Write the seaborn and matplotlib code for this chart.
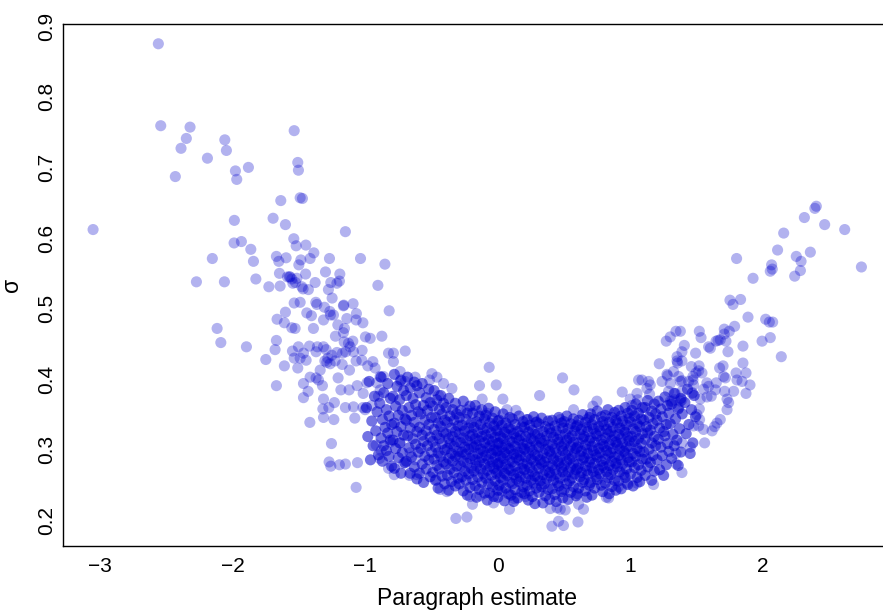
import matplotlib
matplotlib.use("Agg")
import matplotlib.pyplot as plt
import seaborn as sns
import pandas as pd

# ---- data (x = paragraph estimate, y = sigma) ----
left_arm = [
    (-2.559,0.875),(-2.541,0.759),(-2.320,0.757),(-2.348,0.741),(-2.388,0.727),(-2.431,0.687),(-2.189,0.713),
    (-2.058,0.739),(-2.046,0.724),(-1.978,0.695),(-1.968,0.683),(-1.880,0.700),(-1.535,0.752),(-1.508,0.707),
    (-1.503,0.696),(-1.490,0.657),(-1.636,0.653),(-1.473,0.656),(-3.051,0.612),(-1.986,0.625),(-1.694,0.628),
    (-1.601,0.619),(-1.149,0.609),(-1.538,0.599),(-1.520,0.589),(-1.447,0.590),(-1.988,0.593),(-1.933,0.595),
    (-1.862,0.584),(-1.387,0.579),(-1.415,0.571),(-1.485,0.569),(-1.500,0.562),(-1.269,0.571),(-1.035,0.571),
    (-0.851,0.563),(-2.152,0.571),(-1.842,0.567),(-1.669,0.574),(-1.651,0.567),(-1.596,0.572),(-1.646,0.550),
    (-1.824,0.542),(-2.272,0.538),(-2.061,0.538),(-1.726,0.531),(-1.641,0.532),(-1.586,0.545),(-1.566,0.545),
    (-1.545,0.536),(-1.515,0.543),(-1.477,0.531),(-1.571,0.545),(-1.553,0.542),(-1.525,0.537),(-1.449,0.549),
    (-1.299,0.552),(-1.191,0.549),(-1.194,0.539),(-1.213,0.536),(-1.259,0.537),(-1.377,0.537),(-1.468,0.528),
    (-1.428,0.527),(-1.277,0.527),(-1.249,0.515),(-0.904,0.533),(-0.819,0.497),(-1.161,0.505),(-1.091,0.507),
    (-1.535,0.508),(-1.490,0.509),(-1.372,0.509),(-1.364,0.506),(-1.601,0.495),(-1.440,0.494),(-1.405,0.490),
    (-1.266,0.496),(-1.307,0.502),(-1.066,0.493),
    (-2.116,0.472),(-2.088,0.452),(-1.895,0.446),(-1.749,0.428),(-1.669,0.391),(-1.609,0.419),(-1.679,0.442),
    (-1.669,0.455),(-1.664,0.485),(-1.609,0.480),(-1.553,0.473),(-1.528,0.472),(-1.548,0.440),(-1.535,0.430),
    (-1.503,0.446),(-1.508,0.416),(-1.490,0.430),(-1.445,0.427),(-1.420,0.447),(-1.465,0.437),(-1.360,0.446),
    (-1.314,0.446),(-1.294,0.442),(-1.370,0.439),(-1.262,0.491),(-1.239,0.491),(-1.314,0.484),(-1.164,0.504),
    (-1.068,0.484),(-1.017,0.480),(-1.138,0.486),(-1.206,0.477),(-1.156,0.472),(-1.164,0.466),(-1.224,0.461),
    (-1.390,0.472),(-0.874,0.461),(-0.962,0.458),(-0.998,0.460),(-1.158,0.453),(-1.126,0.451),(-1.093,0.454),
    (-1.113,0.446),(-1.146,0.439),(-1.171,0.437),(-1.213,0.438),(-1.251,0.434),(-1.281,0.430),(-1.304,0.426),
    (-1.289,0.424),(-1.264,0.422),(-1.339,0.413),(-1.370,0.402),(-1.352,0.399),(-1.322,0.391),(-1.415,0.403),
    (-1.465,0.394),(-1.430,0.383),(-1.465,0.374),(-1.204,0.402),(-1.183,0.385),(-1.121,0.385),(-1.060,0.391),
    (-0.987,0.395),(-1.015,0.380),(-1.118,0.413),(-1.173,0.421),(-1.226,0.426),(-1.068,0.426),(-1.025,0.427),
    (-1.088,0.439),(-1.023,0.441),(-0.942,0.425),(-0.925,0.416),(-0.980,0.419),(-1.314,0.372),(-1.319,0.358),
    (-1.274,0.360),(-1.232,0.367),(-1.314,0.346),(-1.236,0.343),(-1.417,0.339),(-1.149,0.360),(-1.088,0.361),
    (-1.078,0.345),(-1.017,0.360),(-1.000,0.357),(-0.949,0.363),(-0.900,0.376),(-0.887,0.385),(-0.912,0.395),
    (-0.862,0.404),(-0.887,0.404),(-1.254,0.309),(-1.272,0.283),(-1.259,0.277),(-1.194,0.279),(-1.149,0.280),
    (-1.058,0.282),(-1.068,0.247),
    (-0.917,0.307),(-0.879,0.299),(-0.891,0.288),(-0.824,0.274),(-0.781,0.265),(-0.711,0.281),(-0.666,0.264),
    (-0.610,0.265),(-0.811,0.311),(-0.736,0.310),(-0.661,0.296),(-0.623,0.286),
    (-0.698,0.440),(-0.787,0.437),(-0.824,0.437),(-0.787,0.425),(-0.736,0.411),(-0.623,0.403),(-0.698,0.397),
    (-0.736,0.397),
]

upper_mid = [
    (-0.497,0.408),(-0.514,0.399),(-0.459,0.403),(-0.409,0.394),(-0.346,0.387),(-0.447,0.377),(-0.065,0.417),
    (-0.138,0.391),(-0.012,0.392),(-0.118,0.372),(0.038,0.372),(0.315,0.377),(0.488,0.402),(0.574,0.385),
    (0.938,0.382),(0.998,0.372),(1.049,0.380),(1.061,0.399),(0.747,0.369),(0.717,0.362),(-0.233,0.357),
    (-0.158,0.355),(-0.082,0.352),(0.069,0.357),(0.137,0.356),(0.231,0.343),(0.294,0.340),(0.471,0.343),
    (0.571,0.357),(0.672,0.343),
]

lower_mid = [
    (-0.316,0.203),(-0.233,0.205),(0.088,0.216),(-0.208,0.234),(-0.191,0.223),(-0.133,0.235),(-0.032,0.225),
    (0.124,0.231),(0.207,0.234),(0.408,0.192),(0.458,0.199),(0.495,0.193),(0.604,0.198),(0.835,0.232),
    (0.818,0.233),(0.646,0.216),(0.508,0.215),(0.446,0.218),(0.395,0.217),(1.174,0.251),(1.388,0.268),
    (1.345,0.280),(1.343,0.295),(1.451,0.304),(1.388,0.310),(-0.384,0.241),(-0.434,0.244),(-0.465,0.258),
    (0.471,0.216),(0.609,0.223),(0.910,0.248),(0.974,0.253),(1.049,0.253),
]

right_arm = [
    (2.401,0.645),(2.390,0.642),(2.311,0.629),(2.464,0.619),(2.615,0.612),(2.155,0.607),(2.109,0.583),
    (2.250,0.574),(2.286,0.567),(2.356,0.580),(2.064,0.562),(2.069,0.556),(2.054,0.553),(2.281,0.554),
    (2.238,0.546),(1.800,0.571),(2.741,0.559),(1.924,0.543),(1.750,0.512),(1.773,0.506),(1.830,0.513),
    (1.886,0.488),(2.019,0.485),(2.047,0.481),(2.072,0.481),(1.992,0.454),(2.054,0.459),(2.137,0.432),
    (1.848,0.447),(1.735,0.439),(1.785,0.475),(1.745,0.468),(1.707,0.471),(1.677,0.456),(1.720,0.454),
    (1.707,0.464),(1.589,0.446),(1.602,0.444),(1.645,0.454),(1.660,0.455),(1.519,0.468),(1.532,0.459),
    (1.491,0.437),(1.376,0.468),(1.343,0.468),(1.300,0.460),(1.270,0.454),(1.406,0.448),(1.388,0.439),
    (1.351,0.432),(1.351,0.426),(1.355,0.423),(1.217,0.422),(1.848,0.423),(1.796,0.409),(1.871,0.409),
    (1.803,0.399),(1.841,0.397),(1.901,0.392),(1.871,0.380),(1.698,0.419),(1.672,0.416),(1.702,0.404),
    (1.715,0.402),(1.647,0.395),(1.640,0.385),(1.589,0.390),(1.609,0.376),(1.577,0.375),(1.778,0.383),
    (1.710,0.383),(1.728,0.372),(1.740,0.367),(1.728,0.357),(1.677,0.343),(1.652,0.338),(1.634,0.333),
    (1.615,0.327),(1.559,0.310),(1.517,0.419),(1.514,0.412),(1.539,0.409),(1.471,0.404),(1.438,0.397),
    (1.476,0.392),(1.551,0.386),(1.576,0.395),(1.464,0.380),(1.526,0.372),(1.519,0.358),(1.501,0.350),
    (1.521,0.343),(1.514,0.334),(1.476,0.334),(1.551,0.329),(1.325,0.411),(1.363,0.404),(1.376,0.397),
    (1.300,0.394),(1.275,0.407),(1.238,0.397),(1.287,0.383),(1.338,0.380),(1.388,0.383),(1.333,0.371),
    (1.376,0.369),(1.313,0.369),(1.363,0.360),(1.087,0.399),(1.137,0.397),(1.124,0.387),(1.144,0.379),
    (1.054,0.371),(1.011,0.363),(1.149,0.392),(1.280,0.405),(1.388,0.426),(1.459,0.418),(1.494,0.409),
    (1.388,0.398),(1.471,0.399),(1.468,0.381),(1.300,0.369),(1.388,0.371),
]

core = [
    (-0.97,0.397),(-0.93,0.376),(-0.99,0.360),(-0.91,0.354),(-0.95,0.341),(-0.92,0.327),(-0.98,0.319),(-0.94,0.306),(-0.90,0.293),(-0.96,0.286),
    (-0.88,0.403),(-0.83,0.394),(-0.86,0.381),(-0.81,0.373),(-0.89,0.366),(-0.84,0.357),(-0.82,0.348),(-0.87,0.343),(-0.80,0.336),(-0.85,0.332),
    (-0.83,0.324),(-0.88,0.317),(-0.81,0.314),(-0.86,0.306),(-0.84,0.299),(-0.82,0.291),(-0.87,0.284),(-0.80,0.277),
    (-0.78,0.407),(-0.73,0.399),(-0.76,0.390),(-0.71,0.384),(-0.79,0.376),(-0.74,0.371),(-0.77,0.362),(-0.72,0.356),(-0.75,0.349),(-0.70,0.344),
    (-0.78,0.338),(-0.73,0.333),(-0.76,0.326),(-0.71,0.321),(-0.79,0.314),(-0.74,0.310),(-0.77,0.302),(-0.72,0.296),(-0.75,0.289),(-0.70,0.282),
    (-0.78,0.274),(-0.73,0.267),
    (-0.68,0.403),(-0.63,0.396),(-0.66,0.388),(-0.61,0.391),(-0.69,0.377),(-0.64,0.373),(-0.62,0.364),(-0.67,0.360),(-0.60,0.354),(-0.65,0.349),
    (-0.69,0.342),(-0.63,0.339),(-0.66,0.331),(-0.61,0.326),(-0.68,0.320),(-0.64,0.316),(-0.62,0.308),(-0.67,0.303),(-0.60,0.297),(-0.65,0.290),
    (-0.69,0.284),(-0.63,0.276),(-0.66,0.267),(-0.61,0.259),
    (-0.57,0.394),(-0.52,0.386),(-0.59,0.381),(-0.54,0.374),(-0.51,0.367),(-0.56,0.363),(-0.53,0.356),(-0.58,0.351),(-0.50,0.346),(-0.55,0.342),
    (-0.52,0.336),(-0.59,0.332),(-0.54,0.327),(-0.57,0.321),(-0.51,0.318),(-0.56,0.312),(-0.53,0.306),(-0.58,0.302),(-0.50,0.297),(-0.55,0.291),
    (-0.52,0.286),(-0.57,0.280),(-0.54,0.273),(-0.59,0.267),(-0.51,0.262),(-0.56,0.254),
    (-0.48,0.384),(-0.43,0.377),(-0.46,0.371),(-0.41,0.366),(-0.49,0.362),(-0.44,0.357),(-0.42,0.351),(-0.47,0.346),(-0.40,0.342),(-0.45,0.338),
    (-0.43,0.333),(-0.48,0.329),(-0.41,0.325),(-0.46,0.321),(-0.44,0.316),(-0.49,0.312),(-0.42,0.309),(-0.47,0.304),(-0.40,0.300),(-0.45,0.296),
    (-0.43,0.291),(-0.48,0.287),(-0.41,0.283),(-0.46,0.278),(-0.44,0.273),(-0.49,0.268),(-0.42,0.263),(-0.47,0.257),(-0.40,0.252),(-0.45,0.246),
    (-0.37,0.373),(-0.32,0.366),(-0.39,0.360),(-0.34,0.357),(-0.31,0.351),(-0.36,0.348),(-0.33,0.342),(-0.38,0.339),(-0.30,0.334),(-0.35,0.331),
    (-0.32,0.326),(-0.39,0.323),(-0.34,0.319),(-0.37,0.316),(-0.31,0.312),(-0.36,0.309),(-0.33,0.305),(-0.38,0.302),(-0.30,0.298),(-0.35,0.295),
    (-0.32,0.291),(-0.37,0.288),(-0.34,0.284),(-0.39,0.280),(-0.31,0.277),(-0.36,0.273),(-0.33,0.268),(-0.38,0.264),(-0.30,0.260),(-0.35,0.255),
    (-0.32,0.249),(-0.37,0.243),
    (-0.26,0.369),(-0.21,0.362),(-0.28,0.356),(-0.23,0.352),(-0.29,0.346),(-0.24,0.343),(-0.20,0.338),(-0.27,0.335),(-0.22,0.331),(-0.25,0.327),
    (-0.29,0.323),(-0.21,0.320),(-0.26,0.317),(-0.23,0.313),(-0.28,0.310),(-0.20,0.307),(-0.25,0.304),(-0.22,0.301),(-0.27,0.297),(-0.24,0.294),
    (-0.29,0.291),(-0.21,0.288),(-0.26,0.284),(-0.23,0.281),(-0.28,0.277),(-0.20,0.274),(-0.25,0.270),(-0.22,0.266),(-0.27,0.262),(-0.24,0.257),
    (-0.29,0.252),(-0.21,0.247),(-0.26,0.242),(-0.23,0.236),
    (-0.17,0.363),(-0.12,0.357),(-0.19,0.352),(-0.14,0.348),(-0.10,0.344),(-0.16,0.340),(-0.13,0.336),(-0.18,0.332),(-0.11,0.329),(-0.15,0.325),
    (-0.19,0.322),(-0.12,0.319),(-0.17,0.316),(-0.14,0.313),(-0.10,0.310),(-0.16,0.307),(-0.18,0.304),(-0.13,0.301),(-0.11,0.298),(-0.15,0.295),
    (-0.19,0.292),(-0.12,0.289),(-0.17,0.286),(-0.14,0.283),(-0.10,0.280),(-0.16,0.277),(-0.13,0.273),(-0.18,0.270),(-0.11,0.266),(-0.15,0.262),
    (-0.19,0.258),(-0.12,0.254),(-0.17,0.249),(-0.14,0.244),(-0.10,0.239),(-0.16,0.233),
    (-0.07,0.359),(-0.02,0.354),(-0.09,0.349),(-0.04,0.345),(0.00,0.341),(-0.06,0.338),(-0.03,0.334),(-0.08,0.331),(-0.01,0.327),(-0.05,0.324),
    (-0.09,0.321),(-0.02,0.318),(-0.07,0.315),(-0.04,0.312),(0.00,0.309),(-0.06,0.306),(-0.08,0.303),(-0.03,0.300),(-0.01,0.298),(-0.05,0.295),
    (-0.09,0.292),(-0.02,0.289),(-0.07,0.286),(-0.04,0.283),(0.00,0.280),(-0.06,0.277),(-0.03,0.274),(-0.08,0.271),(-0.01,0.267),(-0.05,0.264),
    (-0.09,0.260),(-0.02,0.256),(-0.07,0.252),(-0.04,0.248),(0.00,0.243),(-0.06,0.239),(-0.03,0.234),(-0.08,0.229),
    (0.04,0.351),(0.09,0.346),(0.01,0.342),(0.06,0.338),(0.03,0.335),(0.08,0.331),(0.00,0.328),(0.05,0.325),(0.07,0.322),(0.02,0.319),
    (0.04,0.316),(0.09,0.313),(0.01,0.310),(0.06,0.307),(0.03,0.304),(0.08,0.302),(0.00,0.299),(0.05,0.296),(0.07,0.293),(0.02,0.291),
    (0.04,0.288),(0.09,0.285),(0.01,0.282),(0.06,0.279),(0.03,0.276),(0.08,0.273),(0.00,0.270),(0.05,0.267),(0.07,0.264),(0.02,0.261),
    (0.04,0.257),(0.09,0.254),(0.01,0.250),(0.06,0.246),(0.03,0.242),(0.08,0.238),(0.00,0.233),(0.05,0.228),
    (0.16,0.348),(0.11,0.344),(0.19,0.340),(0.13,0.336),(0.18,0.333),(0.10,0.329),(0.15,0.326),(0.12,0.323),(0.17,0.320),(0.14,0.317),
    (0.16,0.314),(0.11,0.311),(0.19,0.308),(0.13,0.305),(0.18,0.303),(0.10,0.300),(0.15,0.297),(0.12,0.294),(0.17,0.292),(0.14,0.289),
    (0.16,0.286),(0.11,0.283),(0.19,0.280),(0.13,0.277),(0.18,0.274),(0.10,0.271),(0.15,0.268),(0.12,0.265),(0.17,0.262),(0.14,0.259),
    (0.16,0.255),(0.11,0.252),(0.19,0.248),(0.13,0.244),(0.18,0.240),(0.10,0.236),(0.15,0.232),(0.12,0.227),
    (0.27,0.347),(0.22,0.343),(0.29,0.339),(0.24,0.335),(0.20,0.332),(0.26,0.328),(0.23,0.325),(0.28,0.322),(0.21,0.319),(0.25,0.316),
    (0.27,0.313),(0.22,0.310),(0.29,0.307),(0.24,0.304),(0.20,0.301),(0.26,0.299),(0.23,0.296),(0.28,0.293),(0.21,0.290),(0.25,0.287),
    (0.27,0.284),(0.22,0.281),(0.29,0.278),(0.24,0.275),(0.20,0.272),(0.26,0.269),(0.23,0.266),(0.28,0.263),(0.21,0.260),(0.25,0.257),
    (0.27,0.253),(0.22,0.250),(0.29,0.246),(0.24,0.242),(0.20,0.238),(0.26,0.234),(0.23,0.229),(0.28,0.224),
    (0.33,0.345),(0.38,0.341),(0.31,0.337),(0.36,0.333),(0.39,0.330),(0.34,0.326),(0.30,0.323),(0.37,0.320),(0.32,0.316),(0.35,0.313),
    (0.33,0.310),(0.38,0.307),(0.31,0.304),(0.36,0.301),(0.39,0.298),(0.34,0.295),(0.30,0.292),(0.37,0.289),(0.32,0.286),(0.35,0.283),
    (0.33,0.280),(0.38,0.277),(0.31,0.274),(0.36,0.271),(0.39,0.268),(0.34,0.265),(0.30,0.262),(0.37,0.259),(0.32,0.256),(0.35,0.252),
    (0.33,0.248),(0.38,0.244),(0.31,0.240),(0.36,0.235),(0.39,0.230),(0.34,0.225),
    (0.46,0.346),(0.41,0.342),(0.48,0.338),(0.43,0.334),(0.49,0.331),(0.44,0.327),(0.40,0.324),(0.47,0.321),(0.42,0.318),(0.45,0.315),
    (0.46,0.311),(0.41,0.308),(0.48,0.305),(0.43,0.302),(0.49,0.299),(0.44,0.296),(0.40,0.293),(0.47,0.290),(0.42,0.287),(0.45,0.284),
    (0.46,0.281),(0.41,0.278),(0.48,0.275),(0.43,0.272),(0.49,0.269),(0.44,0.266),(0.40,0.263),(0.47,0.260),(0.42,0.257),(0.45,0.253),
    (0.46,0.249),(0.41,0.245),(0.48,0.241),(0.43,0.237),(0.49,0.232),(0.44,0.227),
    (0.52,0.348),(0.57,0.344),(0.50,0.340),(0.55,0.337),(0.59,0.333),(0.53,0.330),(0.58,0.327),(0.51,0.323),(0.56,0.320),(0.54,0.317),
    (0.52,0.314),(0.57,0.311),(0.50,0.308),(0.55,0.305),(0.59,0.302),(0.53,0.299),(0.58,0.296),(0.51,0.293),(0.56,0.290),(0.54,0.287),
    (0.52,0.284),(0.57,0.281),(0.50,0.278),(0.55,0.275),(0.59,0.272),(0.53,0.269),(0.58,0.266),(0.51,0.263),(0.56,0.260),(0.54,0.256),
    (0.52,0.252),(0.57,0.248),(0.50,0.244),(0.55,0.240),(0.59,0.235),(0.53,0.230),
    (0.64,0.350),(0.69,0.346),(0.61,0.342),(0.66,0.339),(0.60,0.335),(0.67,0.332),(0.63,0.329),(0.68,0.326),(0.62,0.322),(0.65,0.319),
    (0.64,0.316),(0.69,0.313),(0.61,0.310),(0.66,0.307),(0.60,0.304),(0.67,0.301),(0.63,0.298),(0.68,0.295),(0.62,0.292),(0.65,0.289),
    (0.64,0.286),(0.69,0.283),(0.61,0.280),(0.66,0.277),(0.60,0.274),(0.67,0.271),(0.63,0.268),(0.68,0.265),(0.62,0.262),(0.65,0.258),
    (0.64,0.254),(0.69,0.250),(0.61,0.246),(0.66,0.242),(0.60,0.238),(0.67,0.233),
    (0.75,0.355),(0.70,0.351),(0.78,0.347),(0.73,0.343),(0.79,0.340),(0.71,0.336),(0.76,0.333),(0.72,0.330),(0.77,0.327),(0.74,0.323),
    (0.75,0.320),(0.70,0.317),(0.78,0.314),(0.73,0.311),(0.79,0.308),(0.71,0.305),(0.76,0.302),(0.72,0.299),(0.77,0.296),(0.74,0.293),
    (0.75,0.290),(0.70,0.287),(0.78,0.284),(0.73,0.281),(0.79,0.278),(0.71,0.275),(0.76,0.272),(0.72,0.269),(0.77,0.266),(0.74,0.262),
    (0.75,0.258),(0.70,0.254),(0.78,0.250),(0.73,0.246),(0.79,0.241),(0.71,0.236),
    (0.83,0.357),(0.88,0.353),(0.81,0.349),(0.86,0.346),(0.89,0.342),(0.84,0.339),(0.80,0.335),(0.87,0.332),(0.82,0.329),(0.85,0.326),
    (0.83,0.323),(0.88,0.320),(0.81,0.317),(0.86,0.314),(0.89,0.311),(0.84,0.308),(0.80,0.305),(0.87,0.302),(0.82,0.299),(0.85,0.296),
    (0.83,0.293),(0.88,0.290),(0.81,0.287),(0.86,0.284),(0.89,0.281),(0.84,0.278),(0.80,0.275),(0.87,0.272),(0.82,0.269),(0.85,0.265),
    (0.83,0.261),(0.88,0.257),(0.81,0.253),(0.86,0.248),(0.89,0.243),(0.84,0.238),
    (0.96,0.360),(0.91,0.356),(0.98,0.352),(0.93,0.348),(0.99,0.345),(0.94,0.341),(0.90,0.338),(0.97,0.335),(0.92,0.331),(0.95,0.328),
    (0.96,0.325),(0.91,0.322),(0.98,0.319),(0.93,0.316),(0.99,0.313),(0.94,0.310),(0.90,0.307),(0.97,0.304),(0.92,0.301),(0.95,0.298),
    (0.96,0.295),(0.91,0.292),(0.98,0.289),(0.93,0.286),(0.99,0.283),(0.94,0.280),(0.90,0.276),(0.97,0.273),(0.92,0.269),(0.95,0.265),
    (0.96,0.261),(0.91,0.256),(0.98,0.251),(0.93,0.245),
    (1.04,0.365),(1.09,0.360),(1.01,0.356),(1.06,0.352),(1.03,0.348),(1.08,0.344),(1.00,0.340),(1.05,0.337),(1.07,0.333),(1.02,0.330),
    (1.04,0.326),(1.09,0.323),(1.01,0.319),(1.06,0.316),(1.03,0.312),(1.08,0.309),(1.00,0.305),(1.05,0.302),(1.07,0.298),(1.02,0.295),
    (1.04,0.291),(1.09,0.287),(1.01,0.283),(1.06,0.279),(1.03,0.275),(1.08,0.271),(1.00,0.266),(1.05,0.261),(1.07,0.255),(1.02,0.249),
    (1.13,0.370),(1.18,0.365),(1.11,0.360),(1.16,0.355),(1.19,0.351),(1.14,0.346),(1.10,0.342),(1.17,0.337),(1.12,0.333),(1.15,0.328),
    (1.13,0.324),(1.18,0.319),(1.11,0.315),(1.16,0.310),(1.19,0.306),(1.14,0.301),(1.10,0.297),(1.17,0.292),(1.12,0.287),(1.15,0.282),
    (1.13,0.276),(1.18,0.270),(1.11,0.264),(1.16,0.257),
    (1.26,0.375),(1.21,0.369),(1.28,0.363),(1.23,0.358),(1.29,0.352),(1.24,0.347),(1.20,0.342),(1.27,0.336),(1.22,0.331),(1.25,0.326),
    (1.26,0.320),(1.21,0.315),(1.28,0.309),(1.23,0.304),(1.29,0.298),(1.24,0.292),(1.20,0.286),(1.27,0.279),(1.22,0.272),(1.25,0.264),
    (1.33,0.380),(1.38,0.373),(1.31,0.365),(1.36,0.358),(1.39,0.351),(1.34,0.344),(1.30,0.337),(1.37,0.330),(1.32,0.322),(1.35,0.314),
    (1.33,0.306),(1.38,0.297),(1.31,0.288),(1.36,0.278),
    (1.43,0.386),(1.48,0.377),(1.41,0.367),(1.46,0.357),(1.49,0.347),(1.44,0.336),(1.42,0.323),(1.47,0.310),(1.45,0.295),
]

x_ticks = [-3, -2, -1, 0, 1, 2]
x_tick_labels = ["\u22123", "\u22122", "\u22121", "0", "1", "2"]
y_ticks = [0.2, 0.3, 0.4, 0.5, 0.6, 0.7, 0.8, 0.9]
y_tick_labels = ["0.2", "0.3", "0.4", "0.5", "0.6", "0.7", "0.8", "0.9"]

sparse_df = pd.DataFrame(left_arm + upper_mid + lower_mid + right_arm, columns=["estimate", "sigma"])
core_df = pd.DataFrame(core, columns=["estimate", "sigma"])

sns.set_theme(style="white")
plt.rcParams["font.family"] = ["Liberation Sans", "DejaVu Sans"]
plt.rcParams["text.color"] = "black"
plt.rcParams["axes.labelcolor"] = "black"
plt.rcParams["xtick.color"] = "black"
plt.rcParams["ytick.color"] = "black"

W, H = 883, 612
fig = plt.figure(figsize=(W / 100, H / 100), dpi=100)
ax = fig.add_axes([62.7 / W, (H - 546) / H, (891.8 - 62.7) / W, (546 - 24) / H])

POINT = "#0000CD"
sns.scatterplot(data=core_df, x="estimate", y="sigma", ax=ax, s=64, color=POINT,
                alpha=0.55, linewidth=0, edgecolor="none")
sns.scatterplot(data=sparse_df, x="estimate", y="sigma", ax=ax, s=64, color=POINT,
                alpha=0.3, linewidth=0, edgecolor="none")

ax.set_xlim(-3.28, 2.97)
ax.set_ylim(0.164, 0.903)
ax.set_xticks(x_ticks)
ax.set_xticklabels(x_tick_labels, fontsize=15)
ax.set_yticks(y_ticks)
ax.set_yticklabels(y_tick_labels, fontsize=15, rotation=90, va="center")
ax.tick_params(axis="both", length=0, colors="black")
ax.tick_params(axis="x", pad=8)
ax.tick_params(axis="y", pad=5)

for side in ["left", "top", "bottom"]:
    ax.spines[side].set_visible(True)
    ax.spines[side].set_color("black")
    ax.spines[side].set_linewidth(1.0)
ax.spines["right"].set_visible(False)

ax.set_xlabel("Paragraph estimate", fontsize=16.5, labelpad=8, color="black")
ax.set_ylabel("\u03c3", fontsize=16.5, labelpad=10, color="black")
ax.grid(False)

fig.savefig("out.png", dpi=100)
